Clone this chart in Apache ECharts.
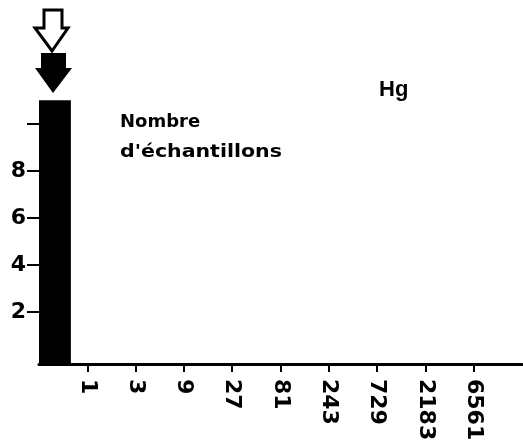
<!DOCTYPE html>
<html><head><meta charset="utf-8">
<script src="https://cdn.jsdelivr.net/npm/echarts@6/dist/echarts.min.js"></script>
<style>html,body{margin:0;padding:0;background:#fff}#c{width:523px;height:447px}</style>
</head><body><div id="c"></div>
<script>
// x positions are log3 indices: 0 -> 1, 1 -> 3, ... 8 -> 6561
const tickLabels = ['1','3','9','27','81','243','729','2183','6561'];
const tickPositions = [0,1,2,3,4,5,6,7,8];
const binStart = [-1];
const binEnd = [-0.34];
const counts = [11];
const yTicks = [2,4,6,8,10];
const yLabelValues = [2,4,6,8];
const yMin = -0.2, yMax = 11.05;

const FONT = 'DejaVu Sans';
const chart = echarts.init(document.getElementById('c'), null, {renderer:'canvas'});
chart.setOption({
  animation:false,
  backgroundColor:'#fff',
  grid:{left:39, right:1, top:99, bottom:83, containLabel:false},
  xAxis:{
    type:'value', min:-1, max:9,
    splitLine:{show:false},
    axisLine:{show:true, onZero:false, lineStyle:{color:'#000', width:3}},
    axisTick:{show:true, customValues:tickPositions, length:8, lineStyle:{color:'#000', width:2}},
    axisLabel:{show:true, customValues:tickPositions, rotate:-90, margin:15,
      formatter:(v)=>tickLabels[tickPositions.indexOf(v)] || '',
      color:'#000', fontFamily:FONT, fontWeight:'bold', fontSize:22}
  },
  yAxis:{
    type:'value', min:yMin, max:yMax,
    splitLine:{show:false},
    axisLine:{show:false, onZero:false},
    axisTick:{show:true, customValues:yTicks, length:12, lineStyle:{color:'#000', width:2}},
    axisLabel:{show:true, customValues:yLabelValues, margin:13,
      color:'#000', fontFamily:FONT, fontWeight:'bold', fontSize:22}
  },
  series:[{
    type:'custom',
    clip:false,
    data: counts.map((c,i)=>[binStart[i], binEnd[i], c]),
    encode:{x:[0,1], y:2},
    renderItem:(params, api)=>{
      const p0 = api.coord([api.value(0), api.value(2)]);
      const p1 = api.coord([api.value(1), yMin]);
      return {type:'rect', shape:{x:p0[0], y:p0[1], width:p1[0]-p0[0], height:p1[1]-p0[1]}, style:{fill:'#000'}};
    }
  }],
  graphic:[
    {type:'polygon', shape:{points:[[44,10],[62,10],[62,28],[68,28],[52,51],[35,28],[44,28]]},
      style:{fill:'#fff', stroke:'#000', lineWidth:3}},
    {type:'polygon', shape:{points:[[41,53],[66,53],[66,68],[72,68],[53,93],[35,68],[41,68]]},
      style:{fill:'#000'}},
    {type:'text', x:120, y:113, style:{text:'Nombre', fill:'#000', font:'bold 18px "DejaVu Sans"'}},
    {type:'text', x:120, y:143, scaleX:1.14, style:{text:"d'échantillons", fill:'#000', font:'bold 18px "DejaVu Sans"'}},
    {type:'text', x:379, y:79, style:{text:'Hg', fill:'#000', font:'bold 22px "Liberation Sans"'}}
  ]
});
</script></body></html>
